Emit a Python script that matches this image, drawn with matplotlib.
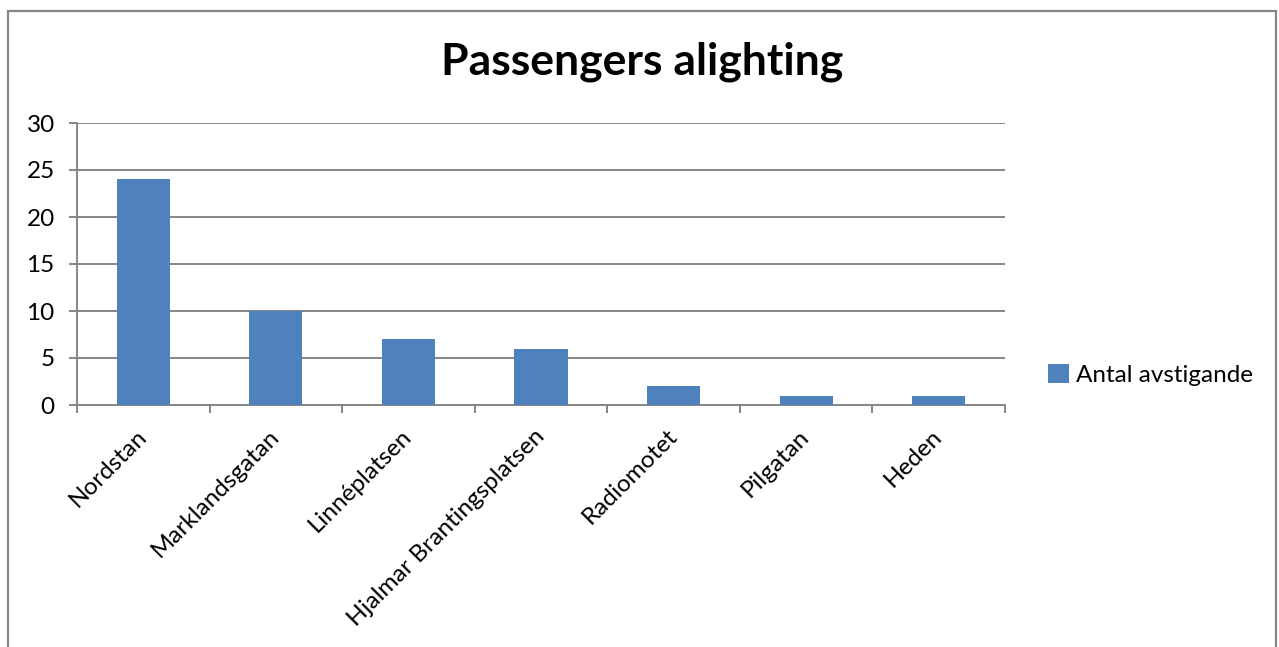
import matplotlib.pyplot as plt
from matplotlib.patches import Rectangle
import numpy as np

plt.rcParams['font.family'] = ['Lato', 'DejaVu Sans']

stops = ["Nordstan", "Marklandsgatan", "Linnéplatsen", "Hjalmar Brantingsplatsen",
         "Radiomotet", "Pilgatan", "Heden"]
alighting = [24, 10, 7, 6, 2, 1, 1]
series_name = "Antal avstigande"

bar_color = '#4F81BD'
grid_color = '#868686'

fig = plt.figure(figsize=(12.79, 6.47), dpi=100)
ax = fig.add_axes([77 / 1279, 1 - 405 / 647, (1005 - 77) / 1279, (405 - 123) / 647])

x = np.arange(len(stops))
ax.bar(x, alighting, width=0.4, color=bar_color, label=series_name, zorder=3)

ax.set_xlim(-0.5, len(stops) - 0.5)
ax.set_ylim(0, 30)
ax.set_yticks(np.arange(0, 31, 5))
ax.grid(axis='y', color=grid_color, linewidth=1.4, zorder=0)
ax.set_axisbelow(True)

for s in ['top', 'right']:
    ax.spines[s].set_visible(False)
for s in ['left', 'bottom']:
    ax.spines[s].set_color(grid_color)
    ax.spines[s].set_linewidth(1.4)

# category labels at centres, tick marks on the boundaries
ax.set_xticks(x)
ax.set_xticklabels(stops, rotation=45, ha='right', va='center', rotation_mode='anchor', fontsize=17.5)
ax.tick_params(axis='x', length=0, pad=20)
ax.set_xticks(np.arange(-0.5, len(stops)), minor=True)
ax.tick_params(axis='x', which='minor', length=6, width=1.4, color=grid_color)
ax.tick_params(axis='y', length=6, width=1.4, color=grid_color, labelsize=17.5, pad=10)

fig.text(642 / 1279, 1 - 62 / 647, "Passengers alighting", ha='center', va='center',
         fontsize=32, fontweight='bold')

fig.legend(loc='center left', bbox_to_anchor=(1026 / 1279, 1 - 375 / 647), frameon=False,
           fontsize=17.5, handlelength=0.85, handleheight=0.85, handletextpad=0.3)

# chart frame, bottom edge is cut off in the original
fig.patches.append(Rectangle((8 / 1279, -0.1), (1276 - 8) / 1279, 1.1 - 11 / 647,
                             transform=fig.transFigure, fill=False,
                             edgecolor=grid_color, linewidth=1.6))

fig.savefig("out.png", dpi=100)
